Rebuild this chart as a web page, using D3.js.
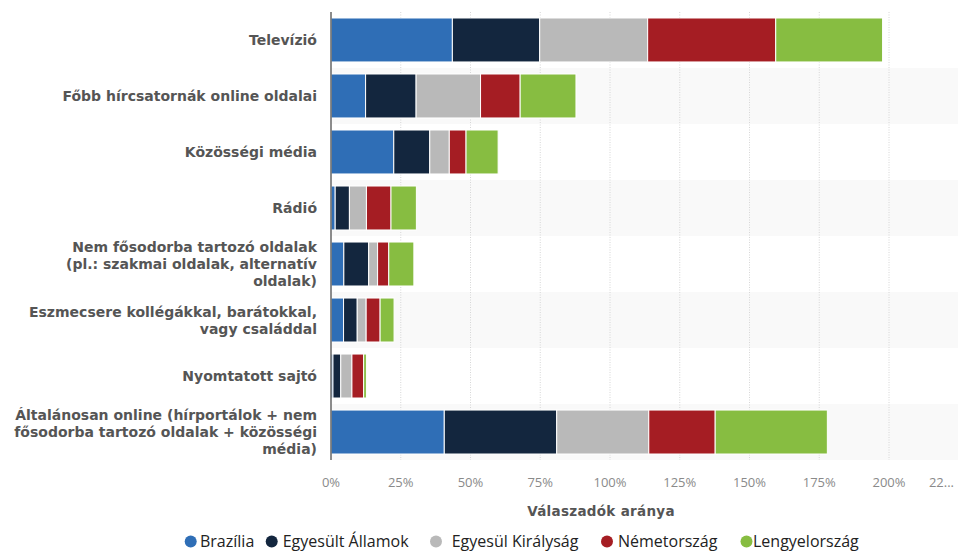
<!DOCTYPE html>
<html>
<head>
<meta charset="utf-8">
<script src="https://cdn.jsdelivr.net/npm/d3@7/dist/d3.min.js"></script>
<style>
  html, body { margin: 0; padding: 0; background: #fff; }
  svg { display: block; }
  .cat-label { font-family: "DejaVu Sans", Verdana, sans-serif; font-weight: bold; font-size: 14px; fill: #555; }
  .tick-label { font-family: "Open Sans", sans-serif; font-size: 13px; fill: #8a8a8a; }
  .axis-title { font-family: "DejaVu Sans", Verdana, sans-serif; font-weight: bold; font-size: 13.5px; fill: #555; letter-spacing: 0.3px; }
  .legend-text { font-family: "Open Sans", sans-serif; font-size: 16px; fill: #222; }
</style>
</head>
<body>
<div id="chart"></div>
<script>
// categories, one entry per row (already broken into lines)
const categories = [
  ["Televízió"],
  ["Főbb hírcsatornák online oldalai"],
  ["Közösségi média"],
  ["Rádió"],
  ["Nem fősodorba tartozó oldalak", "(pl.: szakmai oldalak, alternatív", "oldalak)"],
  ["Eszmecsere kollégákkal, barátokkal,", "vagy családdal"],
  ["Nyomtatott sajtó"],
  ["Általánosan online (hírportálok + nem", "fősodorba tartozó oldalak + közösségi", "média)"]
];

const seriesNames = ["Brazília", "Egyesült Államok", "Egyesül Királyság", "Németország", "Lengyelország"];

// values in %, same order as categories
const brazil  = [43.5, 12.4, 22.5, 1.5, 4.6, 4.5, 0.7, 40.6];
const usa     = [31.3, 18.1, 12.9, 5.1, 8.9, 4.9, 2.8, 40.3];
const uk      = [38.7, 23.1, 7.0, 6.1, 3.2, 3.2, 4.0, 33.0];
const germany = [45.9, 14.2, 6.0, 8.8, 4.0, 5.0, 4.2, 23.8];
const poland  = [38.3, 20.0, 11.5, 9.1, 9.0, 5.0, 1.0, 40.2];

const xTicks = [0, 25, 50, 75, 100, 125, 150, 175, 200, 225];
const axisTitle = "Válaszadók aránya";

(() => {
  const W = 958;
  const H = 551;
  const colors = ["#2f6eb6", "#13263e", "#b9b9b9", "#a51d23", "#87bd41"];

  // plot frame
  const left = 331, right = 958.75, top = 12, bottom = 460;

  const seriesValues = [brazil, usa, uk, germany, poland];

  const svg = d3.select("#chart")
    .append("svg")
    .attr("width", W)
    .attr("height", H);

  const x = d3.scaleLinear().domain([0, 225]).range([left, right]);
  const y = d3.scaleBand()
    .domain(d3.range(categories.length))
    .range([top, bottom])
    .paddingInner(0.215)
    .paddingOuter(0.107);
  const band = d3.scaleBand().domain(d3.range(categories.length)).range([top, bottom]);

  // -----------------------------
  // Alternating row stripes
  // -----------------------------
  svg.append("g")
    .selectAll("rect")
    .data(d3.range(categories.length).filter((i) => i % 2 === 1))
    .join("rect")
    .attr("x", left)
    .attr("y", (i) => band(i))
    .attr("width", W - left)
    .attr("height", band.bandwidth())
    .attr("fill", "#f9f9f9");

  // -----------------------------
  // Grid + x axis labels
  // -----------------------------
  svg.append("g")
    .selectAll("line")
    .data(xTicks.filter((t) => t > 0))
    .join("line")
    .attr("x1", (d) => x(d))
    .attr("x2", (d) => x(d))
    .attr("y1", top)
    .attr("y2", bottom)
    .attr("stroke", "#d6d6d6")
    .attr("stroke-width", 1)
    .attr("stroke-dasharray", "1,1.5");

  svg.append("g")
    .selectAll("text")
    .data(xTicks)
    .join("text")
    .attr("class", "tick-label")
    .attr("x", (d) => (x(d) > W - 20 ? W - 4 : x(d)))
    .attr("y", 487)
    .attr("text-anchor", (d) => (x(d) > W - 20 ? "end" : "middle"))
    .text((d) => (x(d) > W - 20 ? String(d).slice(0, 2) + "..." : d + "%"));

  svg.append("text")
    .attr("class", "axis-title")
    .attr("x", 601)
    .attr("y", 516)
    .attr("text-anchor", "middle")
    .text(axisTitle);

  // -----------------------------
  // Stacked bars
  // -----------------------------
  const rows = categories.map((c, i) => {
    const r = { i };
    seriesNames.forEach((s, k) => (r[s] = seriesValues[k][i]));
    return r;
  });
  const stacked = d3.stack().keys(seriesNames)(rows);

  svg.append("g")
    .selectAll("g")
    .data(stacked)
    .join("g")
    .attr("fill", (d, k) => colors[k])
    .selectAll("rect")
    .data((d) => d)
    .join("rect")
    .attr("x", (d) => x(d[0]))
    .attr("y", (d) => y(d.data.i))
    .attr("width", (d) => Math.max(0, x(d[1]) - x(d[0])))
    .attr("height", y.bandwidth())
    .attr("stroke", "#fff")
    .attr("stroke-width", 1);

  // left axis line
  svg.append("line")
    .attr("x1", left)
    .attr("x2", left)
    .attr("y1", top)
    .attr("y2", bottom)
    .attr("stroke", "#666")
    .attr("stroke-width", 1.5);

  // -----------------------------
  // Category labels
  // -----------------------------
  const lineH = 17;
  const labels = svg.append("g")
    .selectAll("text")
    .data(categories)
    .join("text")
    .attr("class", "cat-label")
    .attr("text-anchor", "end")
    .attr("transform", (d, i) => {
      const cy = band(i) + band.bandwidth() / 2;
      return `translate(317,${cy - ((d.length - 1) * lineH) / 2 + 5})`;
    });

  labels.selectAll("tspan")
    .data((d) => d)
    .join("tspan")
    .attr("x", 0)
    .attr("dy", (d, j) => (j === 0 ? 0 : lineH))
    .text((d) => d);

  // -----------------------------
  // Legend
  // -----------------------------
  const legendX = [190.7, 271.7, 436, 607, 746.5];
  const legendGap = [9.3, 11, 15.7, 11, 6.5];

  const legend = svg.append("g")
    .selectAll("g")
    .data(seriesNames)
    .join("g")
    .attr("transform", (d, k) => `translate(${legendX[k]},541.5)`);

  legend.append("circle")
    .attr("r", 6)
    .attr("fill", (d, k) => colors[k]);

  legend.append("text")
    .attr("class", "legend-text")
    .attr("x", (d, k) => legendGap[k])
    .attr("y", 5.5)
    .text((d) => d);
})();
</script>
</body>
</html>
